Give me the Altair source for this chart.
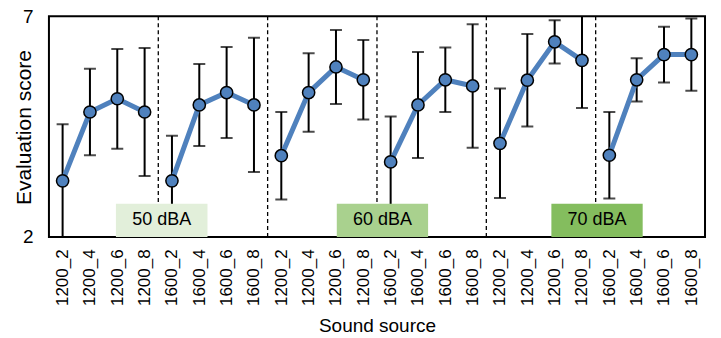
import altair as alt
import pandas as pd

sources = ["1200_2", "1200_4", "1200_6", "1200_8", "1600_2", "1600_4", "1600_6", "1600_8"] * 3
means = [3.27, 4.83, 5.13, 4.83, 3.27, 4.99, 5.27, 4.99,
         3.84, 5.27, 5.85, 5.56, 3.70, 4.99, 5.56, 5.42,
         4.12, 5.55, 6.42, 6.00, 3.85, 5.56, 6.13, 6.13]
errs = [1.28, 0.98, 1.13, 1.45, 1.02, 0.93, 1.03, 1.52,
        0.99, 0.89, 0.84, 0.90, 1.03, 1.20, 0.73, 1.40,
        1.24, 1.05, 0.49, 1.08, 0.98, 0.49, 0.63, 0.82]
groups = [g for g in range(6) for _ in range(4)]

level_labels = ["50 dBA", "60 dBA", "70 dBA"]
level_x0 = [1.95, 10.03, 17.88]
level_x1 = [5.30, 13.37, 21.22]
level_y0 = [2.0, 2.0, 2.0]
level_y1 = [2.75, 2.75, 2.75]
level_colors = ["#E2EFDA", "#A9D18E", "#84BD5E"]
separators = [3.5, 7.5, 11.5, 15.5, 19.5]

df = pd.DataFrame({
    "idx": list(range(len(sources))),
    "source": sources,
    "mean": means,
    "lo": [m - e for m, e in zip(means, errs)],
    "hi": [m + e for m, e in zip(means, errs)],
    "group": groups,
})
boxes = pd.DataFrame({
    "label": level_labels,
    "x0": level_x0, "x1": level_x1,
    "xm": [(a + b) / 2 for a, b in zip(level_x0, level_x1)],
    "y0": level_y0, "y1": level_y1,
    "ym": [(a + b) / 2 for a, b in zip(level_y0, level_y1)],
    "color": level_colors,
})
seps = pd.DataFrame({"x": separators})

label_arr = "[" + ",".join("'%s'" % s for s in sources) + "]"

xscale = alt.Scale(domain=[-0.5, len(sources) - 0.5], nice=False, zero=False)
yscale = alt.Scale(domain=[2, 7], nice=False, zero=False)

xaxis = alt.Axis(values=list(range(len(sources))), labelExpr=label_arr + "[datum.value]",
                 ticks=False, domain=False, grid=False, labelAngle=270, labelFontSize=17,
                 labelPadding=12, labelOverlap=False, labelBound=False,
                 title="Sound source", titleFontSize=19, titleFontWeight="normal",
                 titlePadding=11, labelColor="black", titleColor="black")
yaxis = alt.Axis(values=[2, 7], ticks=False, domain=False, grid=False, labelFontSize=19,
                 labelPadding=16, labelOverlap=False, labelFlush=False,
                 title="Evaluation score", titleFontSize=21,
                 titleFontWeight="normal", titleX=-24, titleY=111, titleAngle=270,
                 titleAlign="center", titleBaseline="middle", labelColor="black", titleColor="black")

X = lambda f: alt.X(f, scale=xscale, axis=xaxis)
Y = lambda f: alt.Y(f, scale=yscale, axis=yaxis)

base = alt.Chart(df)

sep_layer = alt.Chart(seps).mark_rule(color="black", strokeWidth=1.3, strokeDash=[4, 3]).encode(
    x=X("x:Q"),
)
err_rule = base.mark_rule(color="black", strokeWidth=2, clip=True).encode(
    x=X("idx:Q"), y=Y("lo:Q"), y2="hi:Q",
)
cap_hi = base.mark_tick(color="black", thickness=2, size=12, orient="horizontal", clip=True).encode(
    x=X("idx:Q"), y=Y("hi:Q"),
)
cap_lo = base.mark_tick(color="black", thickness=2, size=12, orient="horizontal", clip=True).encode(
    x=X("idx:Q"), y=Y("lo:Q"),
)
line = base.mark_line(color="#4F81BD", strokeWidth=5).encode(
    x=X("idx:Q"), y=Y("mean:Q"), detail="group:N",
)
pts = base.mark_point(filled=True, fill="#4F81BD", stroke="black", strokeWidth=1.5,
                      size=150, opacity=1, shape="circle").encode(
    x=X("idx:Q"), y=Y("mean:Q"),
)
box_rect = alt.Chart(boxes).mark_rect().encode(
    x=X("x0:Q"), x2="x1:Q",
    y=Y("y0:Q"), y2="y1:Q",
    color=alt.Color("color:N", scale=None),
)
box_text = alt.Chart(boxes).mark_text(fontSize=18, color="black", baseline="middle", align="center").encode(
    x=X("xm:Q"), y=Y("ym:Q"),
    text="label:N",
)

chart = alt.layer(sep_layer, err_rule, cap_hi, cap_lo, line, pts, box_rect, box_text).properties(
    width=657, height=221,
    autosize=alt.AutoSizeParams(type="none"),
    padding={"left": 41, "top": 8, "right": 8, "bottom": 100},
).configure(font="Liberation Sans").configure_view(
    stroke="black", strokeWidth=2
).configure_axis(labelOverlap=False)

chart.save("out.html", embed_options={"renderer": "svg", "actions": False})
